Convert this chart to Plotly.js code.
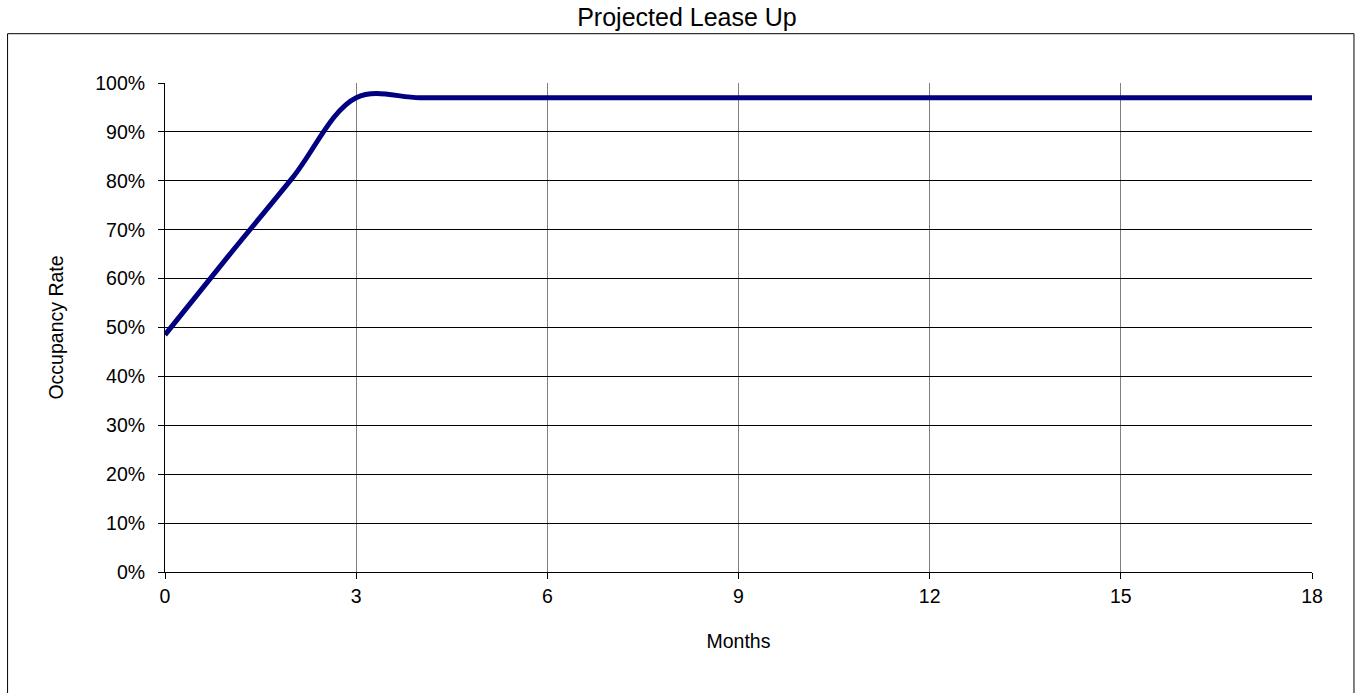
<!DOCTYPE html>
<html>
<head>
<meta charset="utf-8">
<script src="https://cdn.plot.ly/plotly-3.0.1.min.js"></script>
<style>
  html, body { margin: 0; padding: 0; background: #fff; }
  #chart { width: 1359px; height: 693px; }
</style>
</head>
<body>
<div id="chart"></div>
<script>
// Projected lease-up schedule: month index and occupancy rate
const months = [0, 1, 2, 3, 4, 5, 6, 7, 8, 9, 10, 11, 12, 13, 14, 15, 16, 17, 18];
const occupancy = [0.485, 0.647, 0.806, 0.97, 0.97, 0.97, 0.97, 0.97, 0.97, 0.97,
                   0.97, 0.97, 0.97, 0.97, 0.97, 0.97, 0.97, 0.97, 0.97];

const chartTitle = 'Projected Lease Up';
const xTitle = 'Months';
const yTitle = 'Occupancy Rate';

const FONT = 'Liberation Sans, Arial, sans-serif';

const trace = {
  x: months,
  y: occupancy,
  type: 'scatter',
  mode: 'lines',
  line: { color: '#000080', width: 5, shape: 'spline', smoothing: 1 },
  cliponaxis: false,
  hoverinfo: 'x+y'
};

const layout = {
  width: 1359,
  height: 693,
  paper_bgcolor: '#ffffff',
  plot_bgcolor: '#ffffff',
  margin: { l: 164.5, r: 47, t: 83, b: 121 },
  showlegend: false,
  font: { family: FONT, color: '#000', size: 19 },
  title: {
    text: chartTitle,
    font: { family: FONT, size: 25, color: '#000' },
    x: 0.5055, xanchor: 'center',
    y: 1 - 17 / 693, yanchor: 'middle', yref: 'container'
  },
  xaxis: {
    range: [0, 18],
    tick0: 0, dtick: 3,
    ticks: 'outside', ticklen: 6, tickcolor: '#000', tickwidth: 1,
    ticklabelstandoff: 1,
    showline: true, linecolor: '#000', linewidth: 1,
    showgrid: true, gridcolor: '#808080', gridwidth: 1,
    zeroline: false,
    tickfont: { family: FONT, size: 19.5, color: '#000' },
    title: { text: xTitle, font: { family: FONT, size: 19.5, color: '#000' }, standoff: 27 }
  },
  yaxis: {
    range: [0, 1],
    tick0: 0, dtick: 0.1,
    tickformat: '.0%',
    ticks: 'outside', ticklen: 6, tickcolor: '#000', tickwidth: 1,
    ticklabelstandoff: 9,
    showline: true, linecolor: '#000', linewidth: 1,
    showgrid: true, gridcolor: '#000', gridwidth: 1,
    zeroline: false,
    tickfont: { family: FONT, size: 19.5, color: '#000' },
    title: { text: yTitle, font: { family: FONT, size: 19.5, color: '#000' }, standoff: 26 }
  },
  shapes: [
    // outer chart frame
    {
      type: 'rect', xref: 'paper', yref: 'paper',
      x0: (7 - 164.5) / 1147.5, x1: (1354 - 164.5) / 1147.5,
      y0: (572.3 - 700) / 489, y1: (572.3 - 34) / 489,
      line: { color: '#000', width: 1 }, fillcolor: 'rgba(0,0,0,0)',
      layer: 'below'
    }
  ]
};

Plotly.newPlot('chart', [trace], layout, { displayModeBar: false, staticPlot: true });
</script>
</body>
</html>
